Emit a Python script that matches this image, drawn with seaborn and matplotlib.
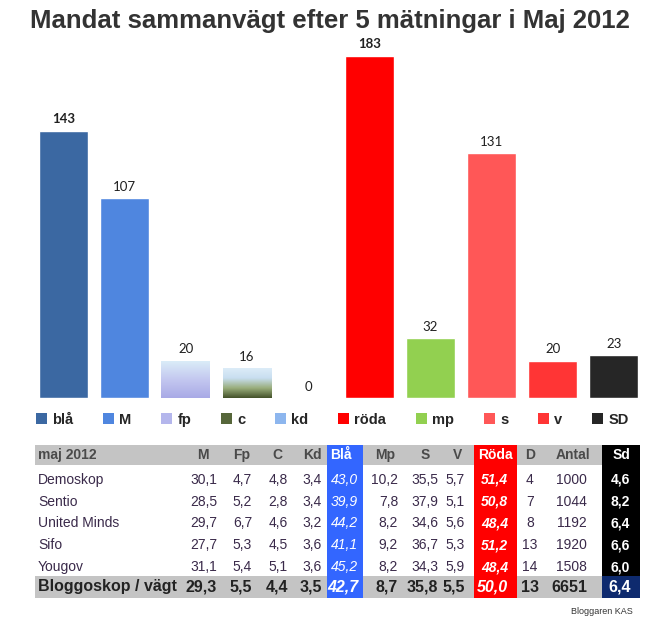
import numpy as np
import matplotlib
matplotlib.use("Agg")
import matplotlib.pyplot as plt
import seaborn as sns
from matplotlib.patches import Patch, Rectangle
from matplotlib.colors import LinearSegmentedColormap

# ---- data ----
partier = ['blå', 'M', 'fp', 'c', 'kd', 'röda', 'mp', 's', 'v', 'SD']
mandat = [143, 107, 20, 16, 0, 183, 32, 131, 20, 23]
farger = ['#3b68a2', '#4f86df', '#b4b6ec', '#56663a', '#8db6ee',
          '#ff0000', '#92d050', '#ff5757', '#ff3535', '#262626']

institut = ['Demoskop', 'Sentio', 'United Minds', 'Sifo', 'Yougov', 'Bloggoskop / vägt']
col_m = [30.1, 28.5, 29.7, 27.7, 31.1, 29.3]
col_fp = [4.7, 5.2, 6.7, 5.3, 5.4, 5.5]
col_c = [4.8, 2.8, 4.6, 4.5, 5.1, 4.4]
col_kd = [3.4, 3.4, 3.2, 3.6, 3.6, 3.5]
col_bla = [43.0, 39.9, 44.2, 41.1, 45.2, 42.7]
col_mp = [10.2, 7.8, 8.2, 9.2, 8.2, 8.7]
col_s = [35.5, 37.9, 34.6, 36.7, 34.3, 35.8]
col_v = [5.7, 5.1, 5.6, 5.3, 5.9, 5.5]
col_roda = [51.4, 50.8, 48.4, 51.2, 48.4, 50.0]
col_d = [4, 7, 8, 13, 14, 13]
col_antal = [1000, 1044, 1192, 1920, 1508, 6651]
col_sd = [4.6, 8.2, 6.4, 6.6, 6.0, 6.4]
rubriker = ['maj 2012', 'M', 'Fp', 'C', 'Kd', 'Blå', 'Mp', 'S', 'V', 'Röda', 'D', 'Antal', 'Sd']

sns.set_style('white')
plt.rcParams['font.family'] = ['Liberation Sans', 'DejaVu Sans']

fig = plt.figure(figsize=(6.6, 6.22), dpi=100)

# ---- stapeldiagram ----
ax = fig.add_axes([0.05, 0.36, 0.9265, 0.601])
sns.barplot(x=partier, y=mandat, hue=partier, palette=farger, legend=False,
            width=0.8, saturation=1, ax=ax)
ax.set_xlim(-0.5, 9.5)
ax.set_ylim(0, 200)
ax.axis('off')

# gradient i fp och c
grad = {2: ['#a9aae6', '#c4c8f0', '#dbeef8'],
        3: ['#44522a', '#9aae7c', '#c8def0', '#dcecf8']}
for i, cols in grad.items():
    bar = ax.patches[i]
    x0, w, h = bar.get_x(), bar.get_width(), bar.get_height()
    cmap = LinearSegmentedColormap.from_list('g%d' % i, cols)
    im = ax.imshow(np.linspace(0, 1, 100).reshape(-1, 1), cmap=cmap, aspect='auto',
                   extent=(x0, x0 + w, h, 0), origin='upper', zorder=3)
    im.set_clip_path(bar)

for i, cont in enumerate(ax.containers):
    lbls = ax.bar_label(cont, padding=4, fontsize=9.5, color='#202020', family='Lato')
    if partier[i] in ('blå', 'röda'):
        for t in lbls:
            t.set_fontweight('bold')

handles = [Patch(facecolor=c, edgecolor='none') for c in farger]
fig.legend(handles, partier, loc='center left', bbox_to_anchor=(0.035, 0.325),
           ncol=10, frameon=False, handlelength=0.75, handleheight=0.75,
           handletextpad=0.35, columnspacing=2.05,
           prop={'family': 'Liberation Sans', 'weight': 'bold', 'size': 10.5})

fig.text(0.5, 0.966, 'Mandat sammanvägt efter 5 mätningar i Maj 2012',
         ha='center', va='center', fontsize=18.5, fontweight='bold', color='#333333')

# ---- tabell ----
tx = fig.add_axes([0, 0, 1, 1], zorder=5)
tx.set_xlim(0, 660)
tx.set_ylim(622, 0)
tx.axis('off')
tx.patch.set_alpha(0)

rad_y = [480, 502, 523, 545, 567, 587]
tx.add_patch(Rectangle((35, 445), 605, 20, color='#c4c4c4', lw=0))
tx.add_patch(Rectangle((35, 576), 605, 22, color='#c4c4c4', lw=0))
tx.add_patch(Rectangle((327, 445), 36, 153, color='#3366ff', lw=0))
tx.add_patch(Rectangle((474, 445), 43, 153, color='#ff0000', lw=0))
tx.add_patch(Rectangle((602, 445), 38, 131, color='#000000', lw=0))
tx.add_patch(Rectangle((602, 576), 38, 22, color='#0e2a6e', lw=0))

# kolumner: (värden, x, justering, format)
kolumner = [
    (col_m, 217, 'right', '%.1f'), (col_fp, 252, 'right', '%.1f'),
    (col_c, 288, 'right', '%.1f'), (col_kd, 322, 'right', '%.1f'),
    (col_bla, 358, 'right', '%.1f'), (col_mp, 398, 'right', '%.1f'),
    (col_s, 438, 'right', '%.1f'), (col_v, 465, 'right', '%.1f'),
    (col_roda, 508, 'right', '%.1f'), (col_d, 530, 'center', '%d'),
    (col_antal, 587, 'right', '%d'), (col_sd, 620, 'center', '%.1f'),
]
rub_x = [38, 203, 242, 277, 312, 341, 385, 425, 458, 495, 530, 573, 622]

for j, r in enumerate(rubriker):
    farg = '#ffffff' if r in ('Blå', 'Röda', 'Sd') else '#4a4a4a'
    tx.text(rub_x[j], 455, r, ha='left' if j == 0 else 'center', va='center',
            fontsize=10, fontweight='bold', color=farg)

for i, namn in enumerate(institut):
    sista = i == len(institut) - 1
    fs = 11.5 if sista else 10
    fw = 'bold' if sista else 'normal'
    tx.text(38, rad_y[i], namn, ha='left', va='center', fontsize=fs, fontweight=fw,
            color='#222222' if sista else '#3a2a4a')
    for k, (vals, x, ha, fmt) in enumerate(kolumner):
        s = (fmt % vals[i]).replace('.', ',')
        farg, stil, vikt = ('#222222' if sista else '#3a2a4a'), 'normal', fw
        if vals is col_bla:
            farg, stil = '#ffffff', 'italic'
        elif vals is col_roda:
            farg, stil, vikt = '#ffffff', 'italic', 'bold'
        elif vals is col_sd:
            farg, vikt = '#ffffff', 'bold'
        tx.text(x, rad_y[i], s, ha=ha, va='center', fontsize=fs, fontweight=vikt,
                style=stil, color=farg)

tx.text(602, 612, 'Bloggaren KAS', ha='center', va='center', fontsize=6.5, color='#333333')

fig.savefig('out.png', dpi=100)
